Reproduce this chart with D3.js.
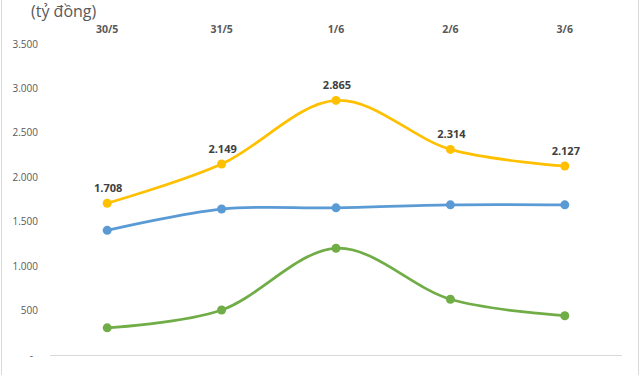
<!DOCTYPE html>
<html lang="vi">
<head>
<meta charset="UTF-8">
<title>Chart</title>
<script src="https://d3js.org/d3.v7.min.js"></script>
<style>
  body { margin: 0; background: #fff; }
  svg { display: block; font-family: "Open Sans", "Liberation Sans", sans-serif; }
</style>
</head>
<body>
<svg width="640" height="375"></svg>
<script>
const categories = ["30/5", "31/5", "1/6", "2/6", "3/6"];
const yellowValues = [1708, 2149, 2865, 2314, 2127];
const blueValues = [1403, 1643, 1656, 1690, 1690];
const greenValues = [306, 506, 1201, 627, 442];
const yTicks = [0, 500, 1000, 1500, 2000, 2500, 3000, 3500];

const svg = d3.select("svg");
const width = 640, height = 375;

const x = d3.scaleBand().domain(categories).range([50, 622]);
const y = d3.scaleLinear().domain([0, 3500]).range([355, 44]);

// frame edges
svg.append("line").attr("x1", 1.5).attr("x2", 1.5).attr("y1", 0).attr("y2", height)
  .attr("stroke", "#d9d9d9");
svg.append("line").attr("x1", 638.5).attr("x2", 638.5).attr("y1", 0).attr("y2", height)
  .attr("stroke", "#d9d9d9");

// unit title
svg.append("text").attr("x", 31).attr("y", 17)
  .attr("font-size", 16).attr("fill", "#595959")
  .text("(tỷ đồng)");

// y axis labels
const fmt = v => v === 0 ? "-" : d3.format(",")(v).replace(/,/g, ".");
svg.append("g").selectAll("text").data(yTicks).enter().append("text")
  .attr("x", d => d === 0 ? 33 : 38)
  .attr("y", d => y(d) + 3.5)
  .attr("text-anchor", "end")
  .attr("font-size", 10)
  .attr("fill", "#595959")
  .text(fmt);

// baseline
svg.append("line").attr("x1", x.range()[0]).attr("x2", x.range()[1])
  .attr("y1", y(0) + 0.5).attr("y2", y(0) + 0.5)
  .attr("stroke", "#d9d9d9").attr("stroke-width", 1);

// category labels on top
svg.append("g").selectAll("text").data(categories).enter().append("text")
  .attr("x", d => x(d) + x.bandwidth() / 2)
  .attr("y", 33)
  .attr("text-anchor", "middle")
  .attr("font-size", 10.5)
  .attr("font-weight", "bold")
  .attr("fill", "#595959")
  .text(d => d);

const series = [
  { values: greenValues, color: "#70AD47" },
  { values: blueValues, color: "#5B9BD5" },
  { values: yellowValues, color: "#FFC000", labels: true }
];

const line = d3.line()
  .x((d, i) => x(categories[i]) + x.bandwidth() / 2)
  .y(d => y(d))
  .curve(d3.curveCardinal.tension(0));

series.forEach(s => {
  svg.append("path").datum(s.values)
    .attr("d", line)
    .attr("fill", "none")
    .attr("stroke", s.color)
    .attr("stroke-width", 2.75)
    .attr("stroke-linecap", "round");

  svg.append("g").selectAll("circle").data(s.values).enter().append("circle")
    .attr("cx", (d, i) => x(categories[i]) + x.bandwidth() / 2)
    .attr("cy", d => y(d))
    .attr("r", 4.5)
    .attr("fill", s.color);

  if (s.labels) {
    svg.append("g").selectAll("text").data(s.values).enter().append("text")
      .attr("x", (d, i) => x(categories[i]) + x.bandwidth() / 2 + 1)
      .attr("y", d => y(d) - 11)
      .attr("text-anchor", "middle")
      .attr("font-size", 11)
      .attr("font-weight", "bold")
      .attr("fill", "#404040")
      .text(d => fmt(d));
  }
});
</script>
</body>
</html>
